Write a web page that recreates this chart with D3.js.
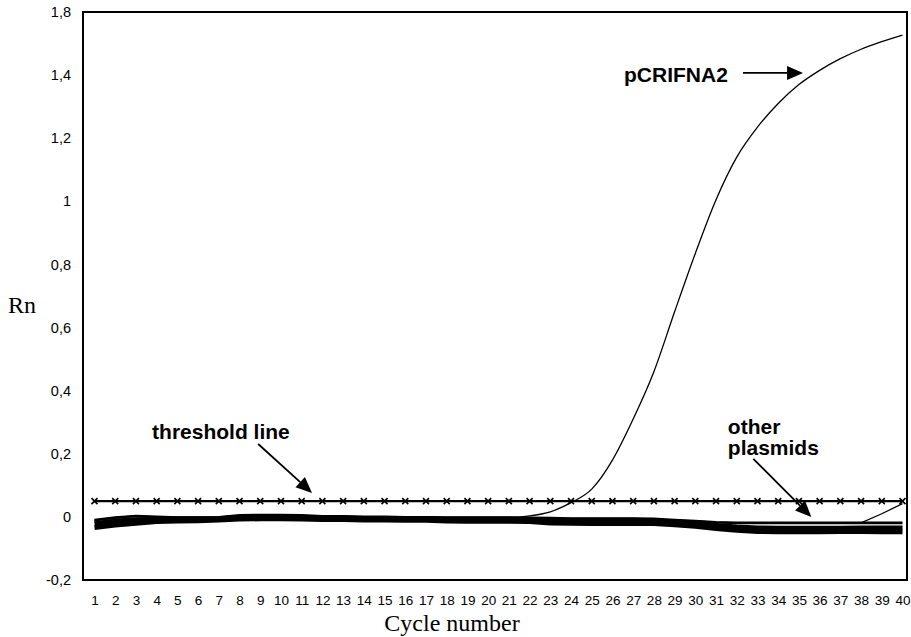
<!DOCTYPE html>
<html>
<head>
<meta charset="utf-8">
<script src="https://cdn.jsdelivr.net/npm/d3@7"></script>
<style>
  html, body { margin: 0; padding: 0; background: #fff; }
  svg { display: block; }
</style>
</head>
<body>
<svg id="chart" width="911" height="637"></svg>
<script>
// ---------- DATA ----------
const cycles = [1,2,3,4,5,6,7,8,9,10,11,12,13,14,15,16,17,18,19,20,21,22,23,24,25,26,27,28,29,30,31,32,33,34,35,36,37,38,39,40];

const pCRIFNA2 = [-0.012,-0.004,0.001,-0.001,-0.002,-0.002,-0.001,0.004,0.004,0.004,0.003,0.001,0.001,-0.001,-0.001,-0.002,-0.002,-0.002,-0.002,-0.002,-0.002,0.003,0.016,0.045,0.088,0.18,0.31,0.46,0.65,0.835,1.005,1.14,1.235,1.31,1.37,1.415,1.452,1.482,1.506,1.527];

const threshold = [0.05,0.05,0.05,0.05,0.05,0.05,0.05,0.05,0.05,0.05,0.05,0.05,0.05,0.05,0.05,0.05,0.05,0.05,0.05,0.05,0.05,0.05,0.05,0.05,0.05,0.05,0.05,0.05,0.05,0.05,0.05,0.05,0.05,0.05,0.05,0.05,0.05,0.05,0.05,0.05];

const otherA = [-0.010,-0.002,0.003,0.000,-0.002,-0.002,-0.001,0.005,0.006,0.006,0.005,0.002,0.002,0.000,0.000,-0.001,-0.001,-0.002,-0.002,-0.002,-0.002,-0.003,-0.004,-0.005,-0.005,-0.005,-0.005,-0.006,-0.010,-0.013,-0.017,-0.019,-0.019,-0.019,-0.019,-0.019,-0.019,-0.019,-0.019,-0.019];
const otherRise = [-0.010,-0.002,0.003,0.000,-0.002,-0.002,-0.001,0.005,0.006,0.006,0.005,0.002,0.002,0.000,0.000,-0.001,-0.001,-0.002,-0.002,-0.002,-0.002,-0.003,-0.004,-0.005,-0.005,-0.005,-0.005,-0.006,-0.010,-0.013,-0.017,-0.019,-0.019,-0.019,-0.019,-0.019,-0.019,-0.019,0.010,0.042];
const otherB = [-0.022,-0.013,-0.009,-0.008,-0.007,-0.007,-0.006,-0.002,-0.002,-0.002,-0.002,-0.004,-0.004,-0.005,-0.005,-0.006,-0.006,-0.008,-0.008,-0.008,-0.008,-0.009,-0.012,-0.012,-0.013,-0.013,-0.013,-0.013,-0.018,-0.022,-0.027,-0.032,-0.035,-0.036,-0.036,-0.036,-0.036,-0.035,-0.035,-0.035];
const otherC = [-0.034,-0.026,-0.020,-0.015,-0.013,-0.012,-0.010,-0.007,-0.006,-0.006,-0.007,-0.008,-0.008,-0.010,-0.010,-0.011,-0.011,-0.013,-0.014,-0.014,-0.014,-0.015,-0.019,-0.020,-0.021,-0.021,-0.021,-0.021,-0.025,-0.030,-0.037,-0.042,-0.046,-0.047,-0.047,-0.047,-0.046,-0.046,-0.047,-0.047];

const yTickValues = [-0.2,0,0.2,0.4,0.6,0.8,1,1.2,1.4,1.6];
const yTickLabels = ["-0,2","0","0,2","0,4","0,6","0,8","1","1,2","1,4","1,8"];
const xTickLabels = ["1","2","3","4","5","6","7","8","9","10","11","12","13","14","15","16","17","18","19","20","21","22","23","24","25","26","27","28","29","30","31","32","33","34","35","36","37","38","39","40"];

// ---------- LAYOUT ----------
const W = 911, H = 637;
const box = { left: 83, right: 907, top: 12, bottom: 580 };
const svg = d3.select("#chart");
svg.append("rect").attr("width", W).attr("height", H).attr("fill", "#fff");

const x = d3.scaleLinear().domain([1, 40]).range([94.5, 902.5]);
const y = d3.scaleLinear().domain([-0.2, 1.6]).range([box.bottom, box.top]);

const sans = "'Liberation Sans', Arial, Helvetica, sans-serif";
const serif = "'Liberation Serif', 'Times New Roman', serif";

// Y axis labels
const yAxis = d3.axisLeft(y).tickValues(yTickValues)
  .tickFormat((d, i) => yTickLabels[i]).tickSize(0).tickPadding(12);
const gy = svg.append("g").attr("transform", `translate(${box.left},0)`).call(yAxis);
gy.select(".domain").remove();
gy.selectAll("text").attr("font-family", sans).attr("font-size", 14.5).attr("fill", "#000");

// X axis labels
const xAxis = d3.axisBottom(x).tickValues(cycles)
  .tickFormat((d, i) => xTickLabels[i]).tickSize(0).tickPadding(15);
const gx = svg.append("g").attr("transform", `translate(0,${box.bottom})`).call(xAxis);
gx.select(".domain").remove();
gx.selectAll("text").attr("font-family", sans).attr("font-size", 13.5).attr("fill", "#000");

// Axis titles
svg.append("text").attr("x", 8).attr("y", 313).attr("font-family", serif)
  .attr("font-size", 24).text("Rn");
svg.append("text").attr("x", 452).attr("y", 631).attr("text-anchor", "middle")
  .attr("font-family", serif).attr("font-size", 24).text("Cycle number");

// ---------- SERIES ----------
const toPts = arr => arr.map((v, i) => [cycles[i], v]);
const line = d3.line().x(d => x(d[0])).y(d => y(d[1]));
const smooth = d3.line().x(d => x(d[0])).y(d => y(d[1])).curve(d3.curveMonotoneX);

const plot = svg.append("g");

// other plasmids: thick band
[[otherC, 5], [otherB, 5], [otherA, 2.6]].forEach(([s, w]) => {
  plot.append("path").attr("d", line(toPts(s))).attr("fill", "none")
    .attr("stroke", "#000").attr("stroke-width", w).attr("stroke-linejoin", "miter");
});
plot.append("path").attr("d", line(toPts(otherRise))).attr("fill", "none")
  .attr("stroke", "#000").attr("stroke-width", 1.3);

// pCRIFNA2 curve
plot.append("path").attr("d", smooth(toPts(pCRIFNA2))).attr("fill", "none")
  .attr("stroke", "#000").attr("stroke-width", 1.3);

// threshold line with x markers
plot.append("path").attr("d", line(toPts(threshold))).attr("fill", "none")
  .attr("stroke", "#000").attr("stroke-width", 2.2);
plot.selectAll(".xm").data(toPts(threshold)).enter().append("path")
  .attr("class", "xm")
  .attr("transform", d => `translate(${x(d[0])},${y(d[1])})`)
  .attr("d", "M-3,-3L3,3M-3,3L3,-3")
  .attr("stroke", "#000").attr("stroke-width", 1.6).attr("fill", "none");

// Frame
svg.append("rect").attr("x", box.left).attr("y", box.top)
  .attr("width", box.right - box.left).attr("height", box.bottom - box.top)
  .attr("fill", "none").attr("stroke", "#000").attr("stroke-width", 2);

// ---------- ANNOTATIONS ----------
function arrow(x1, y1, x2, y2) {
  const a = Math.atan2(y2 - y1, x2 - x1);
  const L = 16, Wd = 7;
  const bx = x2 - L * Math.cos(a), by = y2 - L * Math.sin(a);
  svg.append("line").attr("x1", x1).attr("y1", y1).attr("x2", bx).attr("y2", by)
    .attr("stroke", "#000").attr("stroke-width", 1.8);
  const p1 = [bx + Wd * Math.sin(a), by - Wd * Math.cos(a)];
  const p2 = [bx - Wd * Math.sin(a), by + Wd * Math.cos(a)];
  svg.append("path").attr("d", `M${x2},${y2}L${p1[0]},${p1[1]}L${p2[0]},${p2[1]}Z`).attr("fill", "#000");
}
function label(cx, cy, txt) {
  svg.append("text").attr("x", x(cx)).attr("y", y(cy)).attr("font-family", sans)
    .attr("font-weight", "bold").attr("font-size", 21).text(txt);
}

label(26.56, 1.378, "pCRIFNA2");
arrow(x(32.3), y(1.407), x(35.2), y(1.407));

label(3.78, 0.247, "threshold line");
arrow(x(8.9), y(0.231), x(11.5), y(0.076));

label(31.57, 0.263, "other");
label(31.57, 0.196, "plasmids");
arrow(x(32.8), y(0.184), x(35.6), y(0.0));
</script>
</body>
</html>
